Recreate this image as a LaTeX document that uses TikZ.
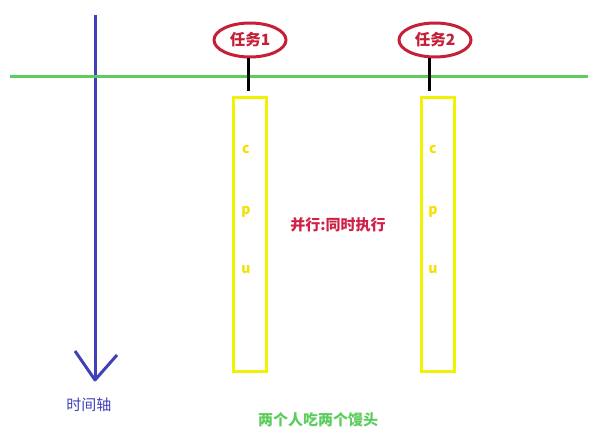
\documentclass[tikz,border=0pt]{standalone}
\usepackage{fontspec}
\setmainfont{Noto Sans CJK SC}
\newfontfamily\cjk{Noto Sans CJK SC}
\usetikzlibrary{shapes.geometric}
\definecolor{axisblue}{HTML}{4040B8}
\definecolor{linegreen}{HTML}{5CCC5C}
\definecolor{cpuyellow}{HTML}{F2F200}
\definecolor{taskred}{HTML}{C42038}
\definecolor{textred}{HTML}{D02048}
\tikzset{
  task/.style={ellipse,draw=taskred,line width=3pt,minimum width=72pt,minimum height=34pt,inner sep=0pt,text=taskred,font=\cjk\bfseries\fontsize{15.5}{17}\selectfont},
  cpubox/.style={draw=cpuyellow,line width=3.5pt,minimum width=33pt,minimum height=274pt,inner sep=0pt},
  cpuletter/.style={text=cpuyellow!85!orange,font=\cjk\bfseries\fontsize{14}{15}\selectfont},
  link/.style={line width=3pt,black},
  lbl/.style={font=\cjk\bfseries\fontsize{15}{17}\selectfont},
}
\begin{document}
\begin{tikzpicture}[x=1pt,y=-1pt]
\useasboundingbox (0,0) rectangle (590,443);
% time axis
\coordinate (axtop) at (95,15);
\coordinate (axbot) at (95,380);
\coordinate (axl) at (75,351);
\coordinate (axr) at (117,355);
\draw[axisblue,line width=3pt] (axtop) -- (axbot);
\draw[axisblue,line width=3pt,line join=round] (axl) -- (axbot) -- (axr);
\node[lbl,text=axisblue,font=\cjk\fontsize{15}{17}\selectfont] (axlabel) at (89,405) {时间轴};
% green line
\coordinate (gl) at (10,77);
\coordinate (gr) at (588,77);
\draw[linegreen,line width=3pt] (gl) -- (gr);
% tasks
\node[task] (t1) at (250,40) {任务1};
\node[task] (t2) at (435,40) {任务2};
% cpu boxes
\node[cpubox] (c1) at (250,234.5) {};
\node[cpubox] (c2) at (438,234.5) {};
\coordinate (l1) at (248,91);
\coordinate (l2) at (429,91);
\draw[link] (t1.south -| l1) -- (l1);
\draw[link] (t2.south -| l2) -- (l2);
\node[cpuletter] (c1c) at (246,150) {c};
\node[cpuletter] (c1p) at (246,212) {p};
\node[cpuletter] (c1u) at (246,270) {u};
\node[cpuletter] (c2c) at (433,150) {c};
\node[cpuletter] (c2p) at (433,212) {p};
\node[cpuletter] (c2u) at (433,270) {u};
% labels
\node[lbl,text=textred] (mid) at (338,225) {并行:同时执行};
\node[lbl,text=linegreen] (bot) at (318,420) {两个人吃两个馒头};
\end{tikzpicture}
\end{document}
